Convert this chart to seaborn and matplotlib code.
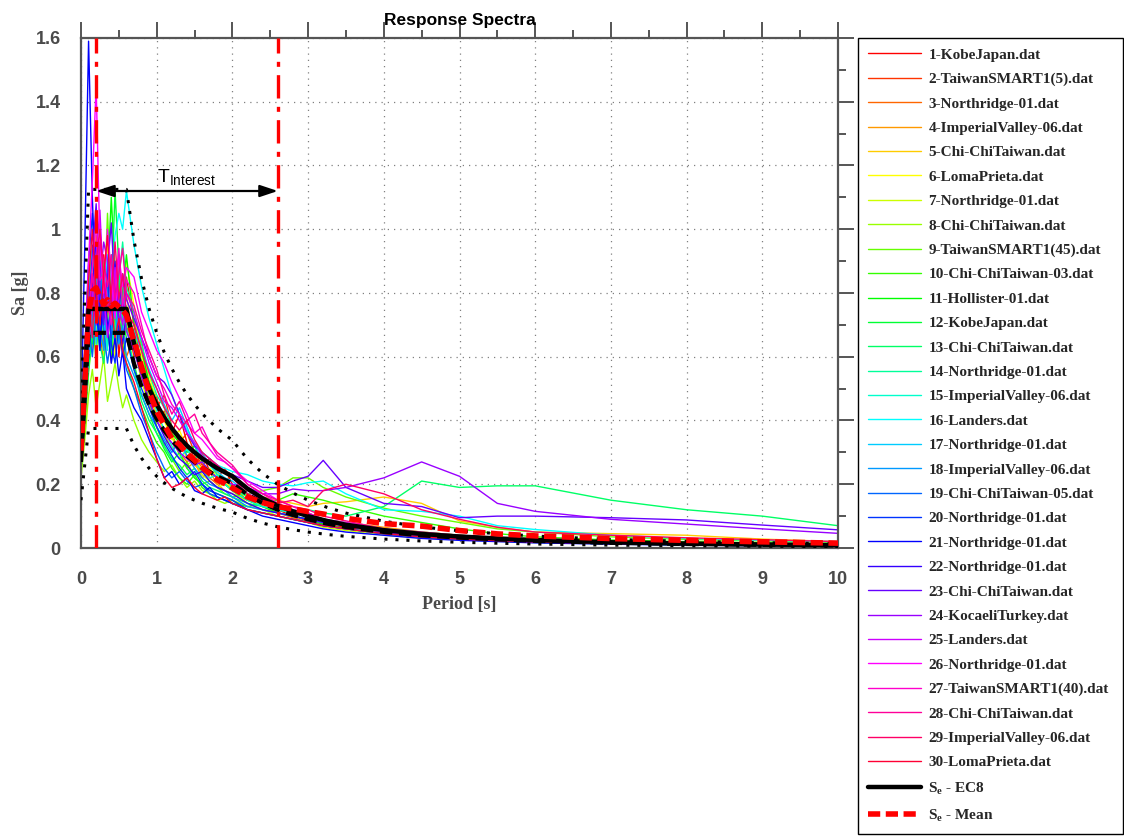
import numpy as np
import pandas as pd
import matplotlib
matplotlib.use("Agg")
import matplotlib.pyplot as plt
from matplotlib.patches import ArrowStyle
from matplotlib.ticker import MultipleLocator, FormatStrFormatter
import seaborn as sns

# ---------------------------------------------------------------- data
periods = [0.0, 0.05, 0.1, 0.15, 0.2, 0.25, 0.3, 0.35, 0.4, 0.45, 0.5, 0.55, 0.6,
           0.7, 0.8, 0.9, 1.0, 1.1, 1.2, 1.3, 1.4, 1.5, 1.6, 1.7, 1.8, 1.9, 2.0,
           2.2, 2.4, 2.6, 2.8, 3.0, 3.2, 3.5,
           4.0, 4.5, 5.0, 5.5, 6.0, 7.0, 8.0, 9.0, 10.0]

record_names = [
    "1-KobeJapan.dat", "2-TaiwanSMART1(5).dat", "3-Northridge-01.dat",
    "4-ImperialValley-06.dat", "5-Chi-ChiTaiwan.dat", "6-LomaPrieta.dat",
    "7-Northridge-01.dat", "8-Chi-ChiTaiwan.dat", "9-TaiwanSMART1(45).dat",
    "10-Chi-ChiTaiwan-03.dat", "11-Hollister-01.dat", "12-KobeJapan.dat",
    "13-Chi-ChiTaiwan.dat", "14-Northridge-01.dat", "15-ImperialValley-06.dat",
    "16-Landers.dat", "17-Northridge-01.dat", "18-ImperialValley-06.dat",
    "19-Chi-ChiTaiwan-05.dat", "20-Northridge-01.dat", "21-Northridge-01.dat",
    "22-Northridge-01.dat", "23-Chi-ChiTaiwan.dat", "24-KocaeliTurkey.dat",
    "25-Landers.dat", "26-Northridge-01.dat", "27-TaiwanSMART1(40).dat",
    "28-Chi-ChiTaiwan.dat", "29-ImperialValley-06.dat", "30-LomaPrieta.dat",
]

sa_01 = [0.32, 0.55, 0.78, 0.95, 0.70, 0.88, 0.92, 0.75, 0.66, 0.82, 0.60, 0.72, 0.85,
         0.70, 0.58, 0.52, 0.47, 0.40, 0.36, 0.42, 0.33, 0.28, 0.30, 0.24, 0.22, 0.25, 0.20,
         0.17, 0.14, 0.12, 0.10, 0.085, 0.075, 0.065,
         0.05, 0.04, 0.032, 0.027, 0.022, 0.017, 0.013, 0.011, 0.009]
sa_02 = [0.28, 0.45, 0.62, 0.80, 0.92, 0.68, 0.58, 0.75, 0.90, 0.70, 0.64, 0.80, 0.72,
         0.60, 0.65, 0.50, 0.44, 0.48, 0.38, 0.33, 0.36, 0.30, 0.26, 0.28, 0.23, 0.21, 0.23,
         0.19, 0.15, 0.13, 0.11, 0.10, 0.09, 0.075,
         0.06, 0.045, 0.036, 0.03, 0.026, 0.02, 0.016, 0.013, 0.011]
sa_03 = [0.35, 0.60, 0.85, 0.70, 0.98, 0.82, 0.64, 0.70, 0.58, 0.76, 0.88, 0.66, 0.60,
         0.66, 0.55, 0.44, 0.40, 0.43, 0.35, 0.30, 0.27, 0.29, 0.25, 0.22, 0.20, 0.21, 0.19,
         0.15, 0.13, 0.11, 0.095, 0.08, 0.07, 0.06,
         0.045, 0.035, 0.028, 0.023, 0.019, 0.014, 0.011, 0.009, 0.008]
sa_04 = [0.30, 0.48, 0.70, 0.62, 0.78, 0.95, 0.72, 0.85, 0.66, 0.70, 0.92, 0.78, 0.68,
         0.72, 0.62, 0.50, 0.38, 0.32, 0.36, 0.30, 0.25, 0.27, 0.22, 0.24, 0.20, 0.18, 0.17,
         0.15, 0.14, 0.12, 0.11, 0.10, 0.09, 0.08,
         0.065, 0.05, 0.04, 0.033, 0.028, 0.022, 0.017, 0.014, 0.012]
sa_05 = [0.26, 0.42, 0.58, 0.72, 0.66, 0.80, 0.90, 0.70, 0.76, 0.62, 0.74, 0.86, 0.80,
         0.62, 0.56, 0.48, 0.42, 0.36, 0.31, 0.34, 0.28, 0.26, 0.24, 0.25, 0.22, 0.20, 0.19,
         0.18, 0.16, 0.15, 0.14, 0.13, 0.14, 0.145,
         0.16, 0.14, 0.085, 0.065, 0.05, 0.045, 0.04, 0.028, 0.02]
sa_06 = [0.33, 0.52, 0.74, 0.88, 0.64, 0.72, 0.84, 0.96, 0.70, 0.60, 0.68, 0.74, 0.90,
         0.76, 0.60, 0.54, 0.46, 0.40, 0.34, 0.37, 0.31, 0.27, 0.25, 0.23, 0.24, 0.21, 0.19,
         0.16, 0.14, 0.12, 0.13, 0.11, 0.09, 0.08,
         0.06, 0.05, 0.04, 0.032, 0.026, 0.02, 0.016, 0.013, 0.011]
sa_07 = [0.29, 0.46, 0.66, 0.80, 0.94, 0.74, 0.60, 0.66, 0.82, 0.90, 0.72, 0.62, 0.70,
         0.64, 0.52, 0.45, 0.39, 0.42, 0.35, 0.29, 0.26, 0.28, 0.23, 0.21, 0.19, 0.20, 0.18,
         0.14, 0.12, 0.10, 0.09, 0.08, 0.065, 0.055,
         0.04, 0.032, 0.026, 0.021, 0.017, 0.013, 0.01, 0.008, 0.007]
sa_08 = [0.22, 0.34, 0.48, 0.56, 0.44, 0.52, 0.60, 0.46, 0.52, 0.58, 0.50, 0.44, 0.48,
         0.40, 0.34, 0.30, 0.27, 0.24, 0.26, 0.22, 0.19, 0.21, 0.18, 0.17, 0.15, 0.14, 0.15,
         0.13, 0.12, 0.11, 0.10, 0.09, 0.08, 0.07,
         0.055, 0.045, 0.036, 0.03, 0.025, 0.019, 0.015, 0.012, 0.01]
sa_09 = [0.24, 0.38, 0.55, 0.66, 0.80, 0.62, 0.72, 1.05, 0.78, 0.64, 0.70, 0.82, 0.74,
         0.68, 0.58, 0.46, 0.38, 0.32, 0.28, 0.24, 0.27, 0.22, 0.20, 0.21, 0.19, 0.17, 0.16,
         0.17, 0.18, 0.19, 0.22, 0.22, 0.19, 0.16,
         0.125, 0.10, 0.08, 0.06, 0.05, 0.035, 0.027, 0.022, 0.018]
sa_10 = [0.27, 0.44, 0.62, 0.74, 0.58, 0.84, 0.90, 0.68, 0.60, 0.76, 0.86, 0.64, 0.58,
         0.50, 0.44, 0.38, 0.33, 0.30, 0.25, 0.22, 0.20, 0.23, 0.19, 0.17, 0.16, 0.15, 0.14,
         0.13, 0.14, 0.15, 0.17, 0.16, 0.15, 0.13,
         0.10, 0.08, 0.06, 0.045, 0.035, 0.025, 0.02, 0.016, 0.013]
sa_11 = [0.31, 0.50, 0.72, 0.66, 0.90, 0.78, 0.70, 0.84, 1.10, 0.86, 0.74, 0.80, 0.92,
         0.70, 0.62, 0.52, 0.46, 0.41, 0.36, 0.33, 0.30, 0.32, 0.27, 0.24, 0.22, 0.20, 0.18,
         0.15, 0.13, 0.11, 0.10, 0.09, 0.075, 0.06,
         0.045, 0.035, 0.028, 0.023, 0.019, 0.014, 0.011, 0.009, 0.007]
sa_12 = [0.36, 0.58, 0.82, 0.64, 0.76, 0.92, 0.70, 0.64, 0.80, 1.12, 0.88, 0.72, 0.66,
         0.58, 0.48, 0.42, 0.36, 0.31, 0.27, 0.30, 0.25, 0.22, 0.20, 0.18, 0.17, 0.16, 0.15,
         0.12, 0.11, 0.10, 0.09, 0.08, 0.07, 0.06,
         0.045, 0.035, 0.028, 0.022, 0.018, 0.013, 0.01, 0.008, 0.006]
sa_13 = [0.25, 0.40, 0.56, 0.68, 0.82, 0.64, 0.58, 0.70, 0.62, 0.78, 0.66, 0.74, 0.70,
         0.56, 0.46, 0.40, 0.36, 0.32, 0.28, 0.26, 0.23, 0.25, 0.21, 0.19, 0.18, 0.17, 0.16,
         0.14, 0.13, 0.12, 0.11, 0.12, 0.11, 0.10,
         0.13, 0.21, 0.19, 0.195, 0.195, 0.15, 0.12, 0.10, 0.07]
sa_14 = [0.30, 0.49, 0.68, 0.84, 0.72, 0.62, 0.78, 0.90, 0.74, 0.68, 0.84, 0.96, 0.82,
         0.74, 0.64, 0.55, 0.48, 0.44, 0.38, 0.34, 0.31, 0.28, 0.30, 0.26, 0.23, 0.22, 0.19,
         0.16, 0.14, 0.12, 0.11, 0.10, 0.085, 0.07,
         0.05, 0.04, 0.032, 0.026, 0.022, 0.016, 0.012, 0.01, 0.008]
sa_15 = [0.34, 0.56, 0.80, 0.94, 0.76, 0.66, 0.72, 0.62, 0.86, 0.74, 0.80, 0.70, 0.76,
         0.66, 0.58, 0.50, 0.43, 0.37, 0.32, 0.28, 0.31, 0.27, 0.24, 0.22, 0.23, 0.20, 0.18,
         0.15, 0.13, 0.12, 0.11, 0.10, 0.09, 0.08,
         0.06, 0.05, 0.04, 0.032, 0.026, 0.02, 0.016, 0.013, 0.01]
sa_16 = [0.28, 0.45, 0.64, 0.78, 0.70, 0.86, 0.76, 0.92, 0.84, 0.98, 1.05, 1.00, 1.12,
         0.95, 0.82, 0.72, 0.64, 0.56, 0.48, 0.42, 0.37, 0.33, 0.30, 0.28, 0.26, 0.25, 0.24,
         0.23, 0.21, 0.20, 0.195, 0.205, 0.21, 0.17,
         0.12, 0.115, 0.10, 0.07, 0.058, 0.04, 0.03, 0.024, 0.02]
sa_17 = [0.32, 0.52, 0.74, 0.86, 0.64, 0.78, 0.84, 0.80, 0.70, 0.64, 0.76, 0.84, 0.72,
         0.68, 0.62, 0.56, 0.50, 0.45, 0.40, 0.44, 0.38, 0.32, 0.28, 0.26, 0.24, 0.22, 0.21,
         0.17, 0.15, 0.13, 0.12, 0.11, 0.09, 0.075,
         0.055, 0.045, 0.036, 0.03, 0.025, 0.019, 0.015, 0.012, 0.01]
sa_18 = [0.26, 0.42, 0.60, 0.72, 0.88, 0.70, 0.62, 0.80, 0.92, 0.74, 0.64, 0.70, 0.60,
         0.54, 0.48, 0.42, 0.38, 0.34, 0.30, 0.34, 0.29, 0.25, 0.22, 0.20, 0.19, 0.18, 0.16,
         0.13, 0.12, 0.11, 0.10, 0.09, 0.08, 0.07,
         0.05, 0.04, 0.032, 0.026, 0.021, 0.016, 0.012, 0.01, 0.008]
sa_19 = [0.30, 0.48, 0.70, 0.60, 0.74, 0.90, 0.68, 0.58, 0.66, 0.80, 0.72, 0.62, 0.56,
         0.50, 0.42, 0.36, 0.30, 0.25, 0.22, 0.24, 0.21, 0.19, 0.20, 0.17, 0.16, 0.15, 0.14,
         0.12, 0.11, 0.10, 0.09, 0.08, 0.07, 0.06,
         0.045, 0.035, 0.028, 0.023, 0.019, 0.014, 0.011, 0.009, 0.007]
sa_20 = [0.38, 0.62, 0.90, 1.05, 0.80, 0.66, 0.74, 0.86, 0.64, 0.58, 0.70, 0.60, 0.66,
         0.56, 0.50, 0.44, 0.38, 0.33, 0.29, 0.25, 0.22, 0.24, 0.20, 0.18, 0.17, 0.16, 0.15,
         0.12, 0.11, 0.10, 0.09, 0.08, 0.07, 0.06,
         0.045, 0.035, 0.028, 0.023, 0.019, 0.014, 0.011, 0.009, 0.007]
sa_21 = [0.40, 0.95, 1.59, 1.10, 0.76, 0.62, 0.84, 0.70, 0.58, 0.66, 0.54, 0.62, 0.50,
         0.44, 0.40, 0.34, 0.28, 0.22, 0.24, 0.20, 0.22, 0.18, 0.17, 0.19, 0.16, 0.15, 0.14,
         0.12, 0.10, 0.09, 0.08, 0.07, 0.06, 0.05,
         0.04, 0.03, 0.024, 0.02, 0.016, 0.012, 0.009, 0.007, 0.006]
sa_22 = [0.29, 0.47, 0.68, 0.82, 0.96, 0.74, 0.82, 0.68, 0.76, 0.90, 0.70, 0.64, 0.74,
         0.62, 0.54, 0.46, 0.40, 0.35, 0.31, 0.28, 0.26, 0.23, 0.24, 0.21, 0.19, 0.18, 0.17,
         0.14, 0.12, 0.11, 0.10, 0.09, 0.08, 0.07,
         0.05, 0.04, 0.032, 0.026, 0.022, 0.016, 0.012, 0.01, 0.008]
sa_23 = [0.33, 0.54, 0.76, 0.92, 1.08, 0.82, 0.70, 0.88, 1.02, 0.80, 0.74, 0.86, 0.78,
         0.72, 0.66, 0.60, 0.54, 0.52, 0.48, 0.42, 0.36, 0.32, 0.30, 0.28, 0.26, 0.24, 0.23,
         0.21, 0.19, 0.19, 0.21, 0.225, 0.275, 0.19,
         0.14, 0.13, 0.095, 0.10, 0.10, 0.095, 0.088, 0.072, 0.057]
sa_24 = [0.28, 0.46, 0.66, 0.80, 0.70, 0.84, 0.96, 0.90, 0.76, 0.86, 0.70, 0.78, 0.68,
         0.62, 0.54, 0.46, 0.40, 0.36, 0.33, 0.30, 0.28, 0.26, 0.27, 0.24, 0.22, 0.21, 0.20,
         0.19, 0.17, 0.17, 0.185, 0.18, 0.18, 0.19,
         0.22, 0.27, 0.225, 0.14, 0.115, 0.09, 0.075, 0.06, 0.046]
sa_25 = [0.27, 0.44, 0.64, 0.78, 0.92, 1.06, 0.80, 0.66, 0.74, 0.88, 0.76, 0.70, 0.80,
         0.74, 0.66, 0.58, 0.52, 0.46, 0.44, 0.40, 0.36, 0.33, 0.29, 0.27, 0.25, 0.24, 0.22,
         0.18, 0.15, 0.13, 0.11, 0.10, 0.085, 0.07,
         0.05, 0.04, 0.032, 0.026, 0.022, 0.017, 0.013, 0.011, 0.009]
sa_26 = [0.34, 0.60, 0.90, 1.15, 1.45, 0.95, 0.80, 1.00, 0.86, 0.72, 0.92, 0.82, 0.88,
         0.85, 0.74, 0.68, 0.62, 0.58, 0.52, 0.47, 0.42, 0.36, 0.34, 0.31, 0.28, 0.27, 0.25,
         0.21, 0.18, 0.15, 0.13, 0.11, 0.09, 0.08,
         0.06, 0.045, 0.036, 0.03, 0.025, 0.019, 0.015, 0.012, 0.01]
sa_27 = [0.31, 0.50, 0.72, 0.88, 1.02, 0.84, 0.86, 0.78, 0.70, 0.82, 0.94, 0.76, 0.84,
         0.80, 0.70, 0.60, 0.54, 0.50, 0.45, 0.42, 0.39, 0.36, 0.38, 0.33, 0.29, 0.27, 0.25,
         0.20, 0.17, 0.14, 0.12, 0.11, 0.09, 0.075,
         0.055, 0.045, 0.036, 0.03, 0.025, 0.019, 0.015, 0.012, 0.01]
sa_28 = [0.29, 0.48, 0.70, 0.86, 0.74, 0.96, 0.90, 0.82, 0.92, 0.78, 0.86, 0.94, 0.80,
         0.76, 0.68, 0.62, 0.56, 0.48, 0.42, 0.46, 0.40, 0.42, 0.36, 0.33, 0.30, 0.28, 0.26,
         0.20, 0.17, 0.15, 0.13, 0.12, 0.10, 0.085,
         0.06, 0.05, 0.04, 0.033, 0.027, 0.02, 0.016, 0.013, 0.011]
sa_29 = [0.33, 0.54, 0.78, 0.66, 0.90, 1.00, 0.84, 0.74, 0.80, 0.96, 0.78, 0.86, 0.74,
         0.70, 0.62, 0.55, 0.50, 0.44, 0.40, 0.37, 0.40, 0.34, 0.30, 0.28, 0.26, 0.24, 0.22,
         0.17, 0.15, 0.14, 0.15, 0.13, 0.18, 0.20,
         0.17, 0.12, 0.09, 0.065, 0.05, 0.04, 0.032, 0.026, 0.02]
sa_30 = [0.35, 0.58, 0.84, 1.00, 0.80, 0.70, 0.86, 0.98, 0.76, 0.66, 0.72, 0.62, 0.58,
         0.52, 0.44, 0.36, 0.28, 0.22, 0.19, 0.20, 0.22, 0.19, 0.17, 0.16, 0.15, 0.16, 0.14,
         0.12, 0.11, 0.10, 0.09, 0.08, 0.07, 0.06,
         0.045, 0.035, 0.028, 0.023, 0.019, 0.014, 0.011, 0.009, 0.008]

records = [sa_01, sa_02, sa_03, sa_04, sa_05, sa_06, sa_07, sa_08, sa_09, sa_10,
           sa_11, sa_12, sa_13, sa_14, sa_15, sa_16, sa_17, sa_18, sa_19, sa_20,
           sa_21, sa_22, sa_23, sa_24, sa_25, sa_26, sa_27, sa_28, sa_29, sa_30]

# Eurocode 8 elastic design spectrum (ordinates in g)
ec8_periods = [0.0, 0.1, 0.6, 0.7, 0.8, 0.9, 1.0, 1.1, 1.2, 1.3, 1.4, 1.5, 1.6, 1.8,
               2.0, 2.2, 2.4, 2.6, 2.8, 3.0, 3.25, 3.5, 4.0, 4.5, 5.0, 5.5, 6.0,
               7.0, 8.0, 9.0, 10.0]
ec8_sa = [0.30, 0.75, 0.75, 0.643, 0.563, 0.500, 0.450, 0.409, 0.375, 0.346, 0.321,
          0.300, 0.281, 0.250, 0.225, 0.186, 0.156, 0.133, 0.115, 0.100, 0.085,
          0.073, 0.056, 0.044, 0.036, 0.030, 0.025, 0.018, 0.014, 0.011, 0.009]

# tolerance band factors applied to the code spectrum
lower_tol, target_tol, upper_tol = 0.5, 0.9, 1.5
# period range of interest (s)
t_interest = [0.2, 2.6]

# ---------------------------------------------------------------- style
sns.set_style("white")
plt.rcParams["font.family"] = ["Liberation Sans", "DejaVu Sans"]
plt.rcParams["mathtext.fontset"] = "custom"
plt.rcParams["mathtext.rm"] = "Liberation Serif:bold"
plt.rcParams["mathtext.sf"] = "Liberation Sans"

AXIS_GREY = "#555555"
TEXT_GREY = "#4a4a4a"

fig = plt.figure(figsize=(11.24, 8.38), dpi=100)
ax = fig.add_axes([81 / 1124, 1 - 548 / 838, (838 - 81) / 1124, (548 - 38) / 838])

palette = sns.hls_palette(len(records), h=0.0, l=0.5, s=1.0)

df = pd.DataFrame({
    "Record": np.repeat(record_names, len(periods)),
    "Period": np.tile(periods, len(records)),
    "Sa": np.concatenate([np.asarray(r, dtype=float) for r in records]),
})

# individual record spectra
for name, color in zip(record_names, palette):
    sub = df[df["Record"] == name]
    sns.lineplot(data=sub, x="Period", y="Sa", color=color, linewidth=1.0,
                 label=name, ax=ax, estimator=None, sort=False, zorder=2)

ec8 = pd.DataFrame({"Period": ec8_periods, "Sa": ec8_sa})

# code spectrum and its tolerance band
sns.lineplot(data=ec8, x="Period", y="Sa", color="black", linewidth=3.2,
             label=r"S$_\mathrm{e}$ - EC8", ax=ax, zorder=4)
ax.plot(ec8["Period"], target_tol * ec8["Sa"], color="black", linewidth=3.0,
        linestyle=(0, (3.0, 1.6)), zorder=4)
for f in (upper_tol, lower_tol):
    ax.plot(ec8["Period"], f * ec8["Sa"], color="black", linewidth=2.2,
            linestyle=(0, (1, 2.6)), zorder=4)

# mean spectrum of the record set
sns.lineplot(data=df, x="Period", y="Sa", estimator="mean", errorbar=None,
             color="red", linewidth=4.0, linestyle=(0, (2.2, 1.0)),
             label=r"S$_\mathrm{e}$ - Mean", ax=ax, zorder=5)

# period range of interest
for t in t_interest:
    ax.axvline(t, color="red", linewidth=2.4, linestyle=(0, (7, 2.5, 1.5, 2.5)), zorder=6)
ax.annotate("", xy=(t_interest[0], 1.12), xytext=(t_interest[1], 1.12),
            arrowprops=dict(arrowstyle=ArrowStyle("<|-|>", head_length=0.9, head_width=0.3),
                            color="black", lw=1.6, mutation_scale=12,
                            shrinkA=0, shrinkB=0), zorder=7)
ax.text(1.0, 1.148, r"$\mathsf{T_{Interest}}$", fontsize=14, color="black",
        ha="left", va="baseline", zorder=7)

# ---------------------------------------------------------------- axes
ax.set_xlim(0, 10)
ax.set_ylim(0, 1.6)
ax.xaxis.set_major_locator(MultipleLocator(1))
ax.xaxis.set_minor_locator(MultipleLocator(0.5))
ax.yaxis.set_major_locator(MultipleLocator(0.2))
ax.yaxis.set_minor_locator(MultipleLocator(0.1))
ax.yaxis.set_major_formatter(FormatStrFormatter("%g"))
ax.xaxis.set_major_formatter(FormatStrFormatter("%g"))

ax.grid(True, which="major", color="#808080", linewidth=0.9, linestyle=(0, (1, 4)))
ax.tick_params(which="both", direction="out", top=True, right=True,
               color=AXIS_GREY, width=1.4)
ax.tick_params(which="major", length=11.5)
ax.tick_params(which="minor", length=5.8)
ax.tick_params(axis="x", which="major", pad=5, labelsize=13, labelcolor=TEXT_GREY)
ax.tick_params(axis="y", which="major", pad=3, labelsize=13, labelcolor=TEXT_GREY)
for lbl in ax.get_xticklabels() + ax.get_yticklabels():
    lbl.set_fontweight("bold")
for sp in ax.spines.values():
    sp.set_color(AXIS_GREY)
    sp.set_linewidth(1.6)

label_font = dict(family="Liberation Serif", weight="bold", size=13, color=TEXT_GREY)
ax.set_xlabel("Period [s]", labelpad=6, **label_font)
ax.set_ylabel("Sa [g]", labelpad=5, **label_font)
ax.set_title("Response Spectra", fontsize=12.5, fontweight="bold", color="black", pad=9)

handles, labels = ax.get_legend_handles_labels()
leg = ax.legend(handles, labels, loc="upper left",
                bbox_to_anchor=(858 / 1124, 1 - 38 / 838, (1123 - 858) / 1124, 0.0),
                bbox_transform=fig.transFigure, borderaxespad=0, mode="expand",
                prop=dict(family="Liberation Serif", weight="bold", size=11),
                frameon=True, fancybox=False, edgecolor="black", framealpha=1,
                handlelength=3.5, handletextpad=0.45, labelspacing=0.70,
                borderpad=0.65)
leg.get_frame().set_linewidth(1.0)

fig.savefig("out.png", dpi=100, facecolor="white")
